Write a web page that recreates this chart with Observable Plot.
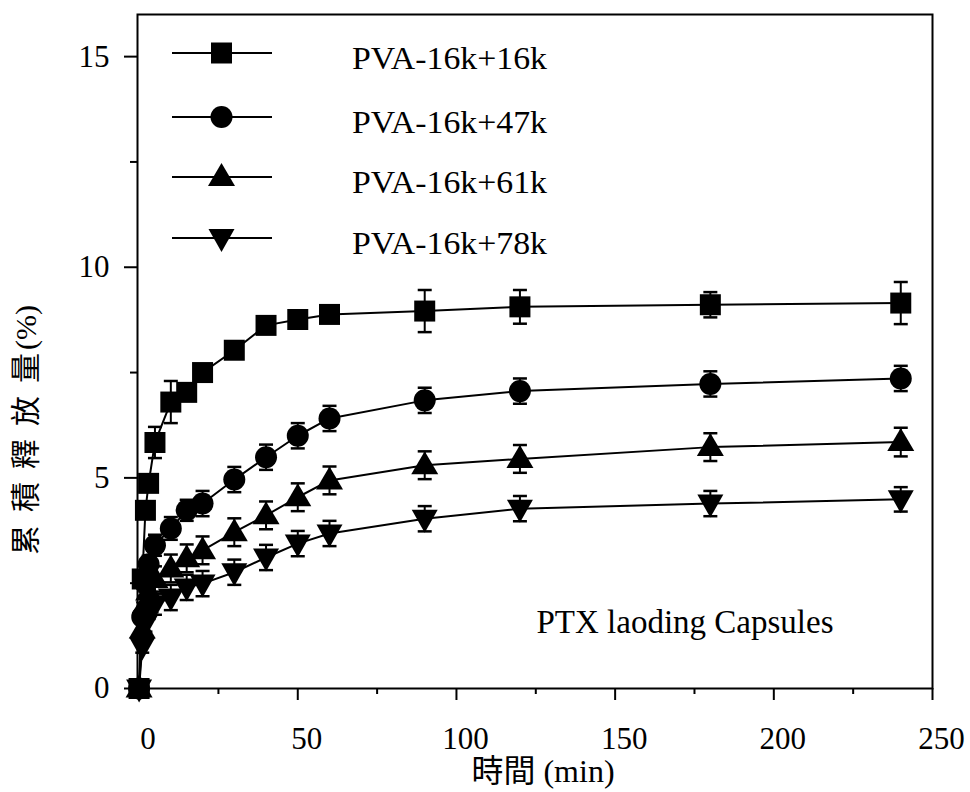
<!DOCTYPE html>
<html><head><meta charset="utf-8">
<script src="https://cdn.jsdelivr.net/npm/d3@7"></script>
<script src="https://cdn.jsdelivr.net/npm/@observablehq/plot@0.6"></script>
<style>body{margin:0;background:#fff;} #chart{width:970px;height:792px;}</style>
</head><body><div id="chart"></div>
<script>
// ---- data ----
const times = [0, 1, 2, 3, 5, 10, 15, 20, 30, 40, 50, 60, 90, 120, 180, 240];
const seriesNames = ["PVA-16k+16k", "PVA-16k+47k", "PVA-16k+61k", "PVA-16k+78k"];
const v16 = [0, 2.6, 4.23, 4.87, 5.84, 6.8, 7.03, 7.5, 8.03, 8.62, 8.76, 8.88, 8.96, 9.06, 9.11, 9.15];
const e16 = [0, 0.1, 0.15, 0.2, 0.37, 0.5, 0.15, 0.15, 0.15, 0.15, 0.15, 0.15, 0.5, 0.4, 0.3, 0.5];
const v47 = [0, 1.7, 2.5, 2.95, 3.4, 3.8, 4.23, 4.39, 4.96, 5.49, 6.0, 6.41, 6.84, 7.06, 7.23, 7.36];
const e47 = [0, 0.15, 0.2, 0.2, 0.25, 0.27, 0.25, 0.3, 0.3, 0.3, 0.3, 0.3, 0.3, 0.3, 0.3, 0.3];
const v61 = [0, 1.4, 2.0, 2.3, 2.6, 2.85, 3.09, 3.28, 3.71, 4.11, 4.54, 4.94, 5.30, 5.45, 5.73, 5.85];
const e61 = [0, 0.15, 0.2, 0.25, 0.3, 0.33, 0.33, 0.33, 0.33, 0.33, 0.33, 0.33, 0.33, 0.33, 0.33, 0.34];
const v78 = [0, 1.0, 1.55, 1.85, 2.0, 2.16, 2.40, 2.49, 2.76, 3.11, 3.44, 3.68, 4.03, 4.27, 4.39, 4.49];
const e78 = [0, 0.15, 0.2, 0.2, 0.25, 0.3, 0.3, 0.3, 0.3, 0.3, 0.3, 0.3, 0.3, 0.3, 0.3, 0.29];
const xTicks = [0, 50, 100, 150, 200, 250];
const xMinor = [25, 75, 125, 175, 225];
const yTicks = [0, 5, 10, 15];
const yMinor = [2.5, 7.5, 12.5];
const xTitle = "時間 (min)";
const yTitleCJK = "累積釋放量";
const yTitleUnit = "(%)";
const note = "PTX laoding Capsules";

// ---- build table ----
const vals = [v16, v47, v61, v78], errs = [e16, e47, e61, e78];
const rows = [];
seriesNames.forEach((s, i) => times.forEach((t, j) => rows.push({series: s, t, v: vals[i][j], e: errs[i][j]})));
const errRows = rows.filter(d => d.e > 0);

// ---- symbols ----
const symSquare = {draw(c) { c.rect(-10.5, -10.5, 21, 21); }};
const symCircle = {draw(c) { c.moveTo(11, 0); c.arc(0, 0, 11, 0, 2 * Math.PI); }};
const symUp = {draw(c) { c.moveTo(0, -14); c.lineTo(13.5, 9); c.lineTo(-13.5, 9); c.closePath(); }};
const symDown = {draw(c) { c.moveTo(0, 14); c.lineTo(13, -9); c.lineTo(-13, -9); c.closePath(); }};
const symCap = {draw(c) { c.moveTo(-7, 0); c.lineTo(7, 0); }};
const symList = [symSquare, symCircle, symUp, symDown];

const font = "'Liberation Serif', serif";
const fontCJK = "'Liberation Serif', 'Noto Sans CJK TC', serif";

const markerMarks = seriesNames.map((s, i) =>
  Plot.dot(rows.filter(d => d.series === s), {x: "t", y: "v", symbol: symList[i], r: 5, fill: "black", stroke: "none"}));

const svg = Plot.plot({
  width: 970, height: 792,
  marginLeft: 137, marginRight: 38, marginTop: 14, marginBottom: 104,
  x: {domain: [-0.5, 250], label: null},
  y: {domain: [0, 16], label: null},
  style: {fontFamily: font, fontSize: "31px", color: "black", background: "white", overflow: "visible"},
  marks: [
    Plot.frame({stroke: "black", strokeWidth: 2}),
    Plot.axisX({ticks: xTicks, tickSize: 12, strokeWidth: 2, fill: "none", label: null}),
    Plot.axisX({ticks: xMinor, tickSize: 6, strokeWidth: 2, fill: "none", label: null}),
    Plot.axisX({ticks: xTicks, tickSize: 0, tickPadding: 38, dx: 9, label: null, fontSize: 31, fontFamily: font, fontVariant: "normal"}),
    Plot.axisY({ticks: yTicks, tickSize: 13, strokeWidth: 2, fill: "none", label: null}),
    Plot.axisY({ticks: yMinor, tickSize: 7, strokeWidth: 2, fill: "none", label: null}),
    Plot.axisY({ticks: yTicks, tickSize: 0, tickPadding: 28, label: null, fontSize: 31, fontFamily: font, fontVariant: "normal"}),
    Plot.line(rows, {x: "t", y: "v", z: "series", stroke: "black", strokeWidth: 2}),
    Plot.ruleX(errRows, {x: "t", y1: d => d.v - d.e, y2: d => d.v + d.e, stroke: "black", strokeWidth: 2}),
    Plot.dot(errRows, {x: "t", y: d => d.v + d.e, symbol: symCap, r: 5, stroke: "black", strokeWidth: 2.5, fill: "none"}),
    Plot.dot(errRows, {x: "t", y: d => d.v - d.e, symbol: symCap, r: 5, stroke: "black", strokeWidth: 2.5, fill: "none"}),
    ...markerMarks,
    Plot.text([note], {frameAnchor: "bottom-right", dx: -99, dy: -56, textAnchor: "end", fontSize: 33, fontFamily: font, fill: "black"})
  ]
});

const root = d3.select(svg);
// axis titles
root.append("text").attr("x", 543).attr("y", 782).attr("text-anchor", "middle")
  .attr("font-family", fontCJK).attr("font-size", 32).attr("fill", "black").text(xTitle);
const yt = root.append("text").attr("transform", "translate(36,430) rotate(-90)").attr("text-anchor", "middle")
  .attr("font-family", fontCJK).attr("font-size", 30).attr("fill", "black");
yt.append("tspan").style("letter-spacing", "13px").text(yTitleCJK);
yt.append("tspan").attr("dx", -10).text(yTitleUnit);

// ---- legend (inside the plot frame, top-left) ----
const lg = root.append("g").attr("class", "legend");
const legendRowsY = [53, 117, 177, 238];
seriesNames.forEach((s, i) => {
  const y = legendRowsY[i];
  lg.append("line").attr("x1", 172).attr("x2", 272).attr("y1", y).attr("y2", y)
    .attr("stroke", "black").attr("stroke-width", 2);
  const p = d3.path(); symList[i].draw(p);
  lg.append("path").attr("d", p.toString()).attr("transform", `translate(221.5,${y})`).attr("fill", "black");
  lg.append("text").attr("x", 352).attr("y", y + 16).attr("text-anchor", "start").text(s)
    .attr("font-family", font).attr("font-size", 31).attr("fill", "black")
    .attr("textLength", 195).attr("lengthAdjust", "spacingAndGlyphs");
});

document.getElementById("chart").appendChild(svg);
</script>
</body></html>
